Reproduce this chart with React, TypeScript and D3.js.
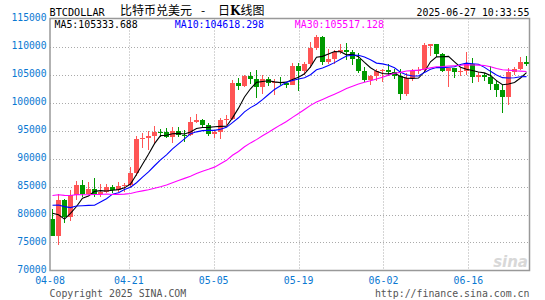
import React from 'react';
import * as d3 from 'd3';

// Daily candles 2025-04-08 .. 2025-06-26 (80 days)
const opens = [79200,76250,82600,79600,83400,85300,83700,84600,83650,84050,84950,84450,85100,85250,87500,93400,93700,93950,94700,94650,93800,95000,94250,94150,96500,96900,95900,94300,94750,96800,97050,103400,102950,104700,104150,102800,104150,103550,103750,103500,103200,106450,105600,106900,109700,111700,107300,107800,109050,109450,108950,107800,105650,104000,104650,105700,105850,105400,104700,101500,104300,105600,105750,110150,110400,108650,105700,106100,105450,105550,106850,104550,104900,104600,103300,102150,100950,105450,106000,107300];
const highs = [80950,83600,82800,84300,85900,86100,85800,86500,85500,85500,85300,85800,85600,88500,94000,94600,95000,95800,95300,95400,95600,95600,95100,97400,97900,97100,96300,95100,97200,97700,104100,104400,104950,105500,105800,104900,104500,104200,104500,103700,107100,107100,107300,110800,112000,111900,109500,109300,110400,110700,109300,108900,106300,105000,105900,106000,106800,105900,105900,105300,106000,106400,110600,110450,110450,108850,106200,106250,106200,108950,107900,105500,105300,106500,104000,103100,106100,106300,108100,108300];
const lows = [76200,74500,78400,78900,82600,83100,83700,83100,83200,83800,83900,84100,84000,84950,86800,91800,91600,92800,93800,93600,92800,93800,92900,94000,96300,95600,94100,93600,93400,95900,96900,102300,102800,103300,100800,101500,102900,101400,103100,102600,103100,102000,104900,106200,109300,106700,106900,106800,108600,107600,106700,105300,103700,103100,103800,103700,104800,104200,100400,101100,103900,105100,105300,108300,108100,105500,102700,104300,104800,104900,103400,103600,103900,102300,100900,98200,99600,104900,105800,106600];
const closes = [76250,82600,79600,83400,85300,83700,84600,83650,84050,84950,84450,85100,85250,87500,93400,93700,93950,94700,94650,93800,95000,94250,94150,96500,96900,95900,94300,94750,96800,97050,103400,102950,104700,104150,102800,104150,103550,103750,103500,103200,106450,105600,106900,109700,111700,107300,107800,109050,109450,108950,107800,105650,104000,104650,105700,105850,105400,104700,101500,104300,105600,105750,110300,110400,108650,105700,106100,105450,105550,106850,104550,104900,104600,103300,102150,100950,105450,106000,107300,106950];
// closes of the 29 days before 04-08, needed for the moving averages at the left edge
const preCloses = [78500,82900,83700,81100,84000,84300,82600,84100,82700,86800,84200,84100,83800,86100,87500,87400,86900,87200,84400,82600,82300,82500,85200,82500,83100,83900,83500,78200,79200];

const yTicks = [70000,75000,80000,85000,90000,95000,100000,105000,110000,115000];
const xTickIndex = [0,13,27,41,55,69];
const xTickLabels = ["04-08","04-21","05-05","05-19","06-02","06-16"];
const maPeriods = [5,10,30];
const maColors = ["#000000","#0000ff","#ff00ff"];
const maLegend = ["MA5:105333.688","MA10:104618.298","MA30:105517.128"];

const W = 545, H = 300;
const L = 50, R = 529, T = 18.5, B = 270.5;
const UP = "#ff5555", DOWN = "#009900";
const AXIS = "#0a78d2";
const MONO = "'DejaVu Sans Mono', 'Liberation Mono', monospace";

export default function App() {
  const n = closes.length;
  const y = d3.scaleLinear().domain([70000, 115000]).range([B, T]);
  const xb = d3.scaleBand<number>().domain(d3.range(n)).range([L, R]).paddingInner(1 / 6).paddingOuter(0);
  const xg = d3.scaleLinear().domain([0, n - 1]).range([L, R]);
  const bw = xb.bandwidth();
  const cx = (i: number) => (xb(i) as number) + Math.floor(bw / 2) + 0.5;

  const all = [...preCloses, ...closes];
  const off = preCloses.length;
  const mas = maPeriods.map(p =>
    closes.map((_, i) => d3.mean(all.slice(off + i - p + 1, off + i + 1)) as number)
  );
  const line = d3.line<number>().x((_, i) => cx(i)).y(d => y(d));

  return (
    <svg width={W} height={H} style={{ position: 'absolute', left: 0, top: 0, background: '#fff' }}>
      {/* header */}
      <text x={49.5} y={15.6} fontFamily={MONO} fontSize={10.2} fill="#000">BTCDOLLAR</text>
      <text x={120} y={14.8} fontFamily="'Noto Sans CJK SC', sans-serif" fontSize={12} fill="#000">比特币兑美元</text>
      <text x={201} y={14.8} fontFamily="'Noto Sans CJK SC', sans-serif" fontSize={12} fill="#000">-</text>
      <text x={218} y={14.8} fontFamily="'Noto Sans CJK SC', sans-serif" fontSize={12} fill="#000">日<tspan fontWeight="bold" fontFamily="'DejaVu Serif', serif">K</tspan>线图</text>
      <text x={529.5} y={15.6} textAnchor="end" fontFamily={MONO} fontSize={9.9} fill="#000">2025-06-27 10:33:55</text>

      {/* grid */}
      {yTicks.filter(v => v > 70000 && v < 115000).map(v => (
        <line key={'gy' + v} x1={L} x2={R} y1={Math.round(y(v)) + 0.5} y2={Math.round(y(v)) + 0.5} stroke="#aaa" strokeDasharray="1,2" />
      ))}
      {xTickIndex.slice(1).map(i => (
        <line key={'gx' + i} x1={Math.round(xg(i)) + 0.5} x2={Math.round(xg(i)) + 0.5} y1={T} y2={B} stroke="#aaa" strokeDasharray="1,2" />
      ))}

      {/* y labels */}
      {yTicks.map(v => (
        <text key={'yl' + v} x={46.5} y={y(v) + 2.6} textAnchor="end" fontFamily={MONO} fontSize={9.7} fill={AXIS}>{v}</text>
      ))}
      {/* x labels */}
      {xTickIndex.map((i, k) => (
        <text key={'xl' + i} x={xg(i)} y={283.6} textAnchor="middle" fontFamily={MONO} fontSize={9.9} fill={AXIS}>{xTickLabels[k]}</text>
      ))}

      {/* watermark */}
      <text x={528} y={267} textAnchor="end" fontFamily="'DejaVu Sans', sans-serif" fontStyle="italic" fontWeight="bold" fontSize={15} fill="#d8d8d8">sina</text>

      {/* candles */}
      <g shapeRendering="crispEdges">
        {closes.map((c, i) => {
          const o = opens[i];
          const col = c >= o ? UP : DOWN;
          const x0 = xb(i) as number;
          const yt = y(Math.max(o, c));
          const yb = y(Math.min(o, c));
          return (
            <g key={'c' + i}>
              <line x1={cx(i)} x2={cx(i)} y1={y(highs[i])} y2={y(lows[i])} stroke={col} />
              <rect x={x0} y={yt} width={bw} height={Math.max(1, yb - yt)} fill={col} />
            </g>
          );
        })}
      </g>

      {/* MA lines */}
      {mas.map((m, k) => (
        <path key={'ma' + k} d={line(m) as string} fill="none" stroke={maColors[k]} strokeWidth={1.1} />
      ))}

      {/* frame */}
      <rect x={L} y={T} width={R - L + 0.5} height={B - T} fill="none" stroke="#999" strokeWidth={1.5} />

      {/* MA legend */}
      {maLegend.map((t, k) => (
        <text key={'lg' + k} x={[54.5, 174.8, 294.8][k]} y={27.8} fontFamily={MONO} fontSize={9.9} fill={maColors[k]}>{t}</text>
      ))}

      {/* footer */}
      <text x={49.5} y={296.8} fontFamily={MONO} fontSize={9.9} fill="#555">Copyright 2025 SINA.COM</text>
      <text x={529.5} y={296.8} textAnchor="end" fontFamily={MONO} fontSize={9.9} fill="#555">http://finance.sina.com.cn</text>
    </svg>
  );
}
